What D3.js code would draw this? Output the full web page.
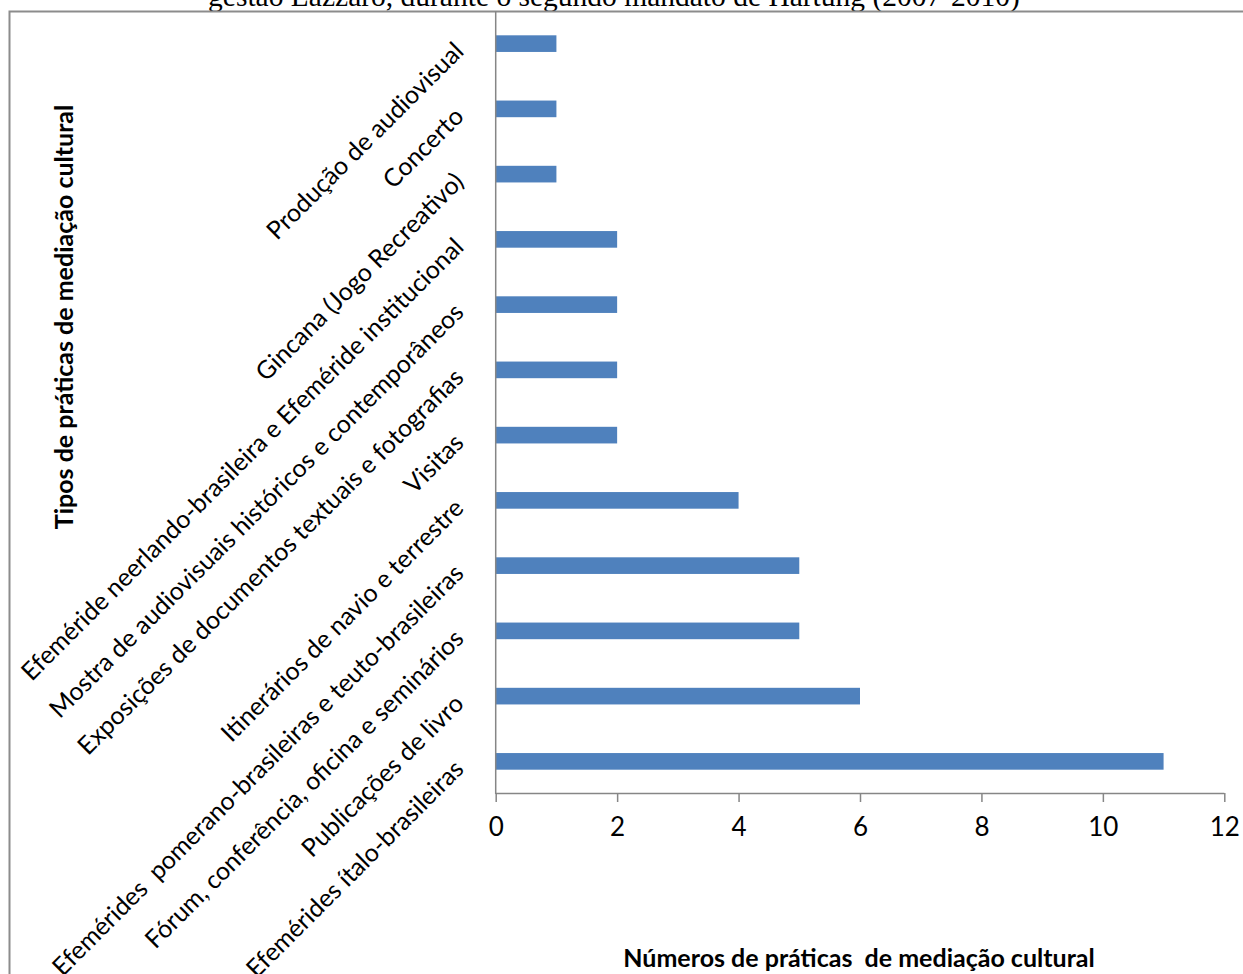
<!DOCTYPE html>
<html>
<head>
<meta charset="utf-8">
<script src="https://cdn.jsdelivr.net/npm/d3@7"></script>
<style>
  html, body { margin: 0; padding: 0; background: #fff; }
  svg { display: block; }
  text { white-space: pre; }
</style>
</head>
<body>
<svg id="chart" width="1243" height="974"></svg>
<script>
// Tipos de práticas de mediação cultural (top to bottom)
const categories = [
  "Produção de audiovisual",
  "Concerto",
  "Gincana (Jogo Recreativo)",
  "Efeméride neerlando-brasileira e Efeméride institucional",
  "Mostra de audiovisuais históricos e contemporâneos",
  "Exposições de documentos textuais e fotografias",
  "Visitas",
  "Itinerários de navio e terrestre",
  "Efemérides  pomerano-brasileiras e teuto-brasileiras",
  "Fórum, conferência, oficina e seminários",
  "Publicações de livro",
  "Efemérides ítalo-brasileiras"
];
// Número de práticas por tipo
const values = [1, 1, 1, 2, 2, 2, 2, 4, 5, 5, 6, 11];
const xTicks = [0, 2, 4, 6, 8, 10, 12];

const titleText = "gestão Lazzaro, durante o segundo mandato de Hartung (2007-2010)";
const yTitle = "Tipos de práticas de mediação cultural";
const xTitle = "Números de práticas  de mediação cultural";

const svg = d3.select("#chart");
const sans = "Lato, 'Open Sans', sans-serif";
const axisColor = "#868686";

// Caption line above the chart frame
svg.append("text")
  .attr("x", 614).attr("y", 6)
  .attr("text-anchor", "middle")
  .attr("font-family", "'Liberation Serif', 'Times New Roman', serif")
  .attr("font-size", 29.5)
  .attr("fill", "#000")
  .text(titleText);

// Chart frame
svg.append("rect")
  .attr("x", 9.5).attr("y", 11.5)
  .attr("width", 1260).attr("height", 1000)
  .attr("fill", "none")
  .attr("stroke", "#8c8c8c")
  .attr("stroke-width", 2);

const x = d3.scaleLinear().domain([0, 12]).range([495.7, 1224.3]);
const y = d3.scaleBand().domain(categories).range([11, 794])
  .paddingInner(0.745).paddingOuter(0.3725);

// Bars
svg.append("g").selectAll("rect")
  .data(categories)
  .join("rect")
  .attr("x", x(0))
  .attr("y", d => y(d))
  .attr("width", (d, i) => x(values[i]) - x(0))
  .attr("height", y.bandwidth())
  .attr("fill", "#4f81bd");

// Value axis
const xAxis = d3.axisBottom(x).tickValues(xTicks).tickSize(9).tickPadding(16).tickFormat(d3.format("d"));
const gx = svg.append("g").attr("transform", `translate(0,${793})`).call(xAxis);
gx.select(".domain").attr("stroke", axisColor).attr("stroke-width", 1.5)
  .attr("d", `M${x(0)},0.5H${x(12)}`);
gx.selectAll(".tick line").attr("stroke", axisColor).attr("stroke-width", 1.5);
gx.selectAll(".tick text")
  .attr("font-family", sans).attr("font-size", 26).attr("fill", "#000");

// Category axis line
svg.append("line")
  .attr("x1", x(0)).attr("x2", x(0))
  .attr("y1", 11).attr("y2", 794)
  .attr("stroke", axisColor).attr("stroke-width", 1.5);

// Rotated category labels
svg.append("g").selectAll("text")
  .data(categories)
  .join("text")
  .attr("transform", d => `translate(459,${y(d) + y.bandwidth() / 2 + 3}) rotate(-45)`)
  .attr("text-anchor", "end")
  .attr("dy", "0.35em")
  .attr("font-family", sans)
  .attr("font-size", 25)
  .attr("fill", "#000")
  .text(d => d);

// Axis titles
svg.append("text")
  .attr("transform", "translate(73,317) rotate(-90)")
  .attr("text-anchor", "middle")
  .attr("font-family", sans).attr("font-weight", "bold")
  .attr("font-size", 25).attr("fill", "#000")
  .text(yTitle);

svg.append("text")
  .attr("x", 859).attr("y", 967)
  .attr("text-anchor", "middle")
  .attr("font-family", sans).attr("font-weight", "bold")
  .attr("font-size", 25).attr("fill", "#000")
  .text(xTitle);
</script>
</body>
</html>
